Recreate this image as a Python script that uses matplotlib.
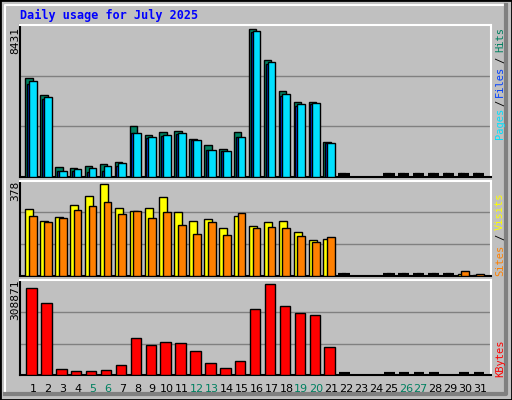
import matplotlib
matplotlib.use("Agg")
import matplotlib.pyplot as plt
from matplotlib.patches import Rectangle
import numpy as np

N = None
days = list(range(1, 32))
hits = [5629, 4656, 595, 538, 652, 767, 881, 2883, 2425, 2597, 2654, 2196, 1853, 1624, 2597, 8431,
        6658, 4902, 4256, 4256, 2025, 0, N, N, 0, 0, 0, 0, 0, 0, 0]
files = [5474, 4542, 366, 480, 538, 652, 824, 2540, 2311, 2425, 2540, 2139, 1567, 1510, 2311, 8317,
         6544, 4713, 4141, 4198, 1968, 0, N, N, 0, 0, 0, 0, 0, 0, 0]
pages = [5302, 4444, 326, 326, 269, 326, 612, 2500, 2250, 2350, 2480, 2100, 1530, 1480, 2280, 8250,
         6450, 4650, 4080, 4140, 1930, 0, N, N, 0, 0, 0, 0, 0, 0, 0]
visits = [274, 225, 243, 291, 329, 378, 278, 266, 278, 323, 262, 225, 233, 197, 246, 205,
          221, 225, 180, 147, 152, 0, N, N, 0, 0, 0, 0, 0, 9, 4]
sites = [246, 221, 238, 270, 287, 303, 254, 266, 238, 262, 209, 172, 221, 168, 258, 197,
         201, 197, 164, 139, 160, 0, N, N, 0, 0, 0, 0, 0, 20, 8]
kbytes = [295300, 244400, 20400, 13600, 13600, 17000, 33900, 125600, 101800, 112000, 108600, 81500,
          40700, 23800, 47500, 224000, 308871, 234200, 210400, 203600, 96000, 0, N, N, 0, 0, 0, 0, N, 0, 0]
weekend = [5, 6, 12, 13, 19, 20, 26, 27]

BG = "#C0C0C0"
fig = plt.figure(figsize=(5.12, 4.0), dpi=100, facecolor=BG)

def panel(bottom, height):
    ax = fig.add_axes([20.3/512, bottom, 470.7/512, height])
    ax.set_facecolor(BG)
    ax.set_xlim(0.148, 31.72)
    for s in ("left", "bottom"):
        ax.spines[s].set_color("black")
    for s in ("top", "right"):
        ax.spines[s].set_color("white")
    for s in ax.spines.values():
        s.set_linewidth(1.5)
    ax.tick_params(left=False, bottom=False, labelleft=False, labelbottom=False)
    return ax

def bars(ax, vals, x0, x1, color, z):
    top = ax.get_ylim()[1]
    xs = [d for d, v in zip(days, vals) if v]
    vs = [v for v in vals if v]
    ax.bar([x + x0 for x in xs], vs, width=x1 - x0, align="edge", color=color,
           edgecolor="black", linewidth=1, zorder=z)
    for d, v in zip(days, vals):
        if v == 0:
            ax.plot([d + x0, d + x1], [top * 0.015] * 2, color="black", lw=3,
                    solid_capstyle="butt", zorder=z)

def grid(ax, top):
    ax.set_ylim(0, top)
    for f in (1/3, 2/3):
        ax.axhline(top * f, color="#808080", lw=1, zorder=1)

ax1 = panel(1 - 177/400, 152/400)
grid(ax1, 8677)
bars(ax1, hits, -0.52, -0.02, "#008060", 3)
bars(ax1, pages, -0.40, -0.25, "#0040FF", 4)
bars(ax1, files, -0.27, 0.25, "#00E0FF", 5)

ax2 = panel(1 - 276.3/400, 95.7/400)
grid(ax2, 392)
bars(ax2, visits, -0.52, 0.02, "#FFFF00", 3)
bars(ax2, sites, -0.27, 0.25, "#FF8000", 4)

ax3 = panel(1 - 375.3/400, 95/400)
grid(ax3, 322400)
bars(ax3, kbytes, -0.45, 0.25, "#FF0000", 3)

for d in days:
    fig.text((33 + (d - 1) * 14.91) / 512, 1 - 389/400, str(d), ha="center", va="center",
             fontsize=8, color="#008060" if d in weekend else "black")

fig.text(20/512, 1 - 15/400, "Daily usage for July 2025", fontsize=8.5, fontweight="bold",
         family="DejaVu Sans Mono", color="#0000FF", va="center", ha="left")

for txt, y in (("8431", 40), ("378", 191), ("308871", 300)):
    fig.text(15/512, 1 - y/400, txt, rotation=90, ha="center", va="center", fontsize=8,
             family="DejaVu Sans Mono")

def rlabel(y, txt, color):
    fig.text(500/512, 1 - y/400, txt, rotation=90, ha="center", va="center", fontsize=7.5,
             family="DejaVu Sans Mono", color=color)

rlabel(40, "Hits", "#008060"); rlabel(60, "/", "black"); rlabel(81, "Files", "#0040FF")
rlabel(103, "/", "black"); rlabel(123, "Pages", "#00E0FF")
rlabel(211, "Visits", "#FFFF00"); rlabel(237, "/", "black"); rlabel(260, "Sites", "#FF8000")
rlabel(358, "KBytes", "#FF0000")

# frame
fig.patches.append(Rectangle((0, 0), 1, 1, transform=fig.transFigure, fill=False,
                             edgecolor="black", lw=2))
fig.lines.append(plt.Line2D([5/512, 5/512, 506/512], [6/400, 1 - 5/400, 1 - 5/400],
                            transform=fig.transFigure, color="white", lw=1.5))
fig.lines.append(plt.Line2D([5/512, 506/512, 506/512], [6/400, 6/400, 1 - 5/400],
                            transform=fig.transFigure, color="#808080", lw=3))

fig.savefig("out.png", dpi=100, facecolor=BG)
